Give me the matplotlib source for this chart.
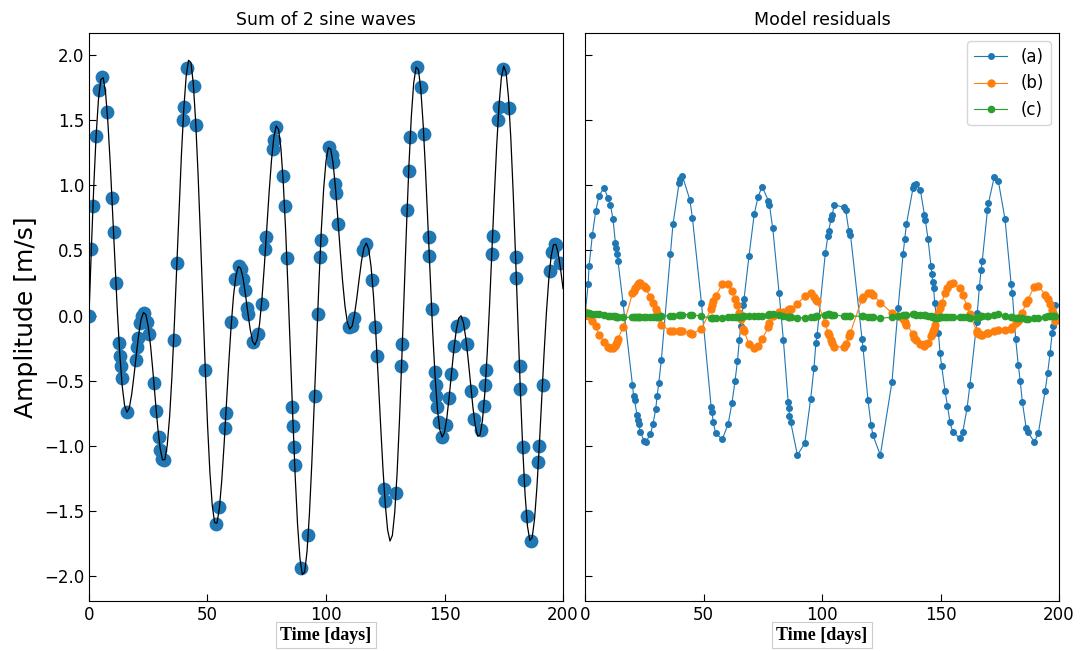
import numpy as np
import matplotlib
matplotlib.use("Agg")
import matplotlib.pyplot as plt

# ---------------- data ----------------
curve_values = [
    0.000, 0.514, 0.986, 1.378, 1.660, 1.811, 1.825, 1.708, 1.475, 1.154,
    0.780, 0.390, 0.020, -0.298, -0.538, -0.688, -0.742, -0.709, -0.606, -0.458,
    -0.294, -0.142, -0.029, 0.024, 0.007, -0.083, -0.236, -0.434, -0.650, -0.855,
    -1.017, -1.107, -1.105, -0.997, -0.780, -0.466, -0.074, 0.365, 0.815, 1.234,
    1.586, 1.836, 1.959, 1.942, 1.782, 1.491, 1.094, 0.623, 0.117, -0.381,
    -0.831, -1.198, -1.455, -1.588, -1.593, -1.480, -1.270, -0.990, -0.674, -0.358,
    -0.072, 0.155, 0.307, 0.375, 0.364, 0.287, 0.165, 0.025, -0.104, -0.195,
    -0.226, -0.182, -0.060, 0.135, 0.385, 0.665, 0.945, 1.191, 1.370, 1.455,
    1.428, 1.278, 1.011, 0.641, 0.194, -0.294, -0.783, -1.232, -1.602, -1.861,
    -1.986, -1.968, -1.809, -1.524, -1.139, -0.690, -0.216, 0.243, 0.648, 0.969,
    1.186, 1.288, 1.276, 1.166, 0.979, 0.745, 0.496, 0.263, 0.074, -0.052,
    -0.103, -0.082, 0.004, 0.134, 0.282, 0.420, 0.519, 0.556, 0.511, 0.378,
    0.160, -0.130, -0.469, -0.825, -1.164, -1.448, -1.645, -1.730, -1.687, -1.510,
    -1.209, -0.804, -0.325, 0.189, 0.696, 1.155, 1.527, 1.784, 1.906, 1.888,
    1.735, 1.466, 1.110, 0.701, 0.280, -0.118, -0.458, -0.715, -0.874, -0.932,
    -0.896, -0.783, -0.618, -0.431, -0.252, -0.108, -0.020, -0.002, -0.056, -0.174,
    -0.339, -0.526, -0.705, -0.848, -0.925, -0.916, -0.807, -0.598, -0.297, 0.076,
    0.490, 0.910, 1.297, 1.613, 1.827, 1.914, 1.863, 1.672, 1.354, 0.934,
    0.446, -0.070, -0.571, -1.017, -1.374, -1.615, -1.725, -1.703, -1.559, -1.315,
    -0.999, -0.647, -0.295, 0.023, 0.279, 0.456, 0.544, 0.546, 0.476, 0.354,
    0.207,
]
curve_days = np.arange(len(curve_values))

obs_days = [
    0.0, 1.0, 1.7, 3.0, 4.4, 5.6, 7.6, 9.7, 10.4, 11.4,
    12.7, 13.05, 13.4, 13.8, 16.0, 19.7, 20.4, 20.8, 21.7, 22.5,
    23.3, 24.6, 25.4, 27.4, 28.4, 29.5, 30.1, 31.0, 31.6, 35.7,
    37.1, 39.75, 40.05, 41.5, 44.1, 45.1, 49.1, 53.5, 55.0, 57.4,
    57.8, 60.1, 61.8, 63.3, 64.0, 65.1, 65.7, 66.75, 67.1, 69.1,
    71.4, 72.8, 74.45, 74.8, 77.5, 77.9, 79.1, 81.8, 82.5, 83.45,
    85.8, 86.15, 86.5, 86.8, 89.6, 92.45, 95.15, 96.5, 97.5, 97.85,
    101.3, 102.4, 102.9, 103.85, 104.15, 105.2, 109.6, 110.9, 111.8, 115.8,
    117.0, 119.5, 120.85, 121.55, 124.6, 124.9, 129.5, 131.85, 132.2, 134.25,
    134.9, 135.6, 138.4, 139.95, 141.2, 143.25, 143.55, 144.6, 145.9, 146.3,
    146.6, 146.95, 147.65, 149.0, 150.5, 151.9, 152.9, 154.2, 155.3, 158.0,
    159.3, 161.3, 162.6, 165.3, 166.55, 167.25, 167.6, 169.95, 170.3, 172.65,
    172.95, 174.6, 177.25, 180.0, 180.3, 181.65, 181.98, 182.99, 183.7, 184.7,
    186.3, 189.6, 189.97, 191.35, 194.35, 195.4, 196.5, 197.2, 198.6,
]
obs_amplitude = [
    0.00, 0.51, 0.84, 1.38, 1.73, 1.83, 1.56, 0.90, 0.64, 0.25,
    -0.21, -0.31, -0.39, -0.48, -0.74, -0.34, -0.24, -0.17, -0.06, 0.00,
    0.02, -0.05, -0.14, -0.52, -0.73, -0.93, -1.03, -1.10, -1.11, -0.19,
    0.40, 1.50, 1.60, 1.90, 1.76, 1.46, -0.42, -1.60, -1.47, -0.86,
    -0.75, -0.05, 0.28, 0.38, 0.36, 0.28, 0.20, 0.06, 0.01, -0.20,
    -0.14, 0.09, 0.51, 0.60, 1.28, 1.35, 1.45, 1.07, 0.84, 0.44,
    -0.70, -0.85, -1.01, -1.15, -1.94, -1.68, -0.62, 0.01, 0.45, 0.58,
    1.29, 1.23, 1.18, 1.01, 0.94, 0.70, -0.09, -0.08, -0.02, 0.50,
    0.55, 0.27, -0.09, -0.31, -1.33, -1.42, -1.36, -0.39, -0.22, 0.81,
    1.11, 1.37, 1.91, 1.75, 1.39, 0.60, 0.46, 0.05, -0.43, -0.53,
    -0.62, -0.70, -0.82, -0.93, -0.84, -0.63, -0.45, -0.23, -0.08, -0.06,
    -0.22, -0.58, -0.79, -0.88, -0.69, -0.53, -0.42, 0.47, 0.61, 1.50,
    1.60, 1.89, 1.59, 0.45, 0.29, -0.39, -0.56, -1.01, -1.26, -1.54,
    -1.73, -1.12, -1.00, -0.53, 0.34, 0.49, 0.55, 0.54, 0.40,
]

res_days = [
    0.0, 1.3, 1.7, 3.1, 4.5, 5.9, 8.0, 9.7, 10.7, 11.8,
    12.8, 13.2, 13.5, 13.9, 16.0, 20.0, 20.5, 20.9, 21.9, 22.4,
    22.6, 23.3, 24.9, 25.6, 27.6, 28.7, 29.8, 30.4, 31.1, 32.2,
    36.0, 37.1, 39.7, 40.2, 41.1, 44.2, 45.3, 49.1, 53.2, 53.6,
    54.1, 55.1, 57.9, 60.4, 62.0, 63.3, 64.3, 65.1, 65.7, 66.8,
    67.1, 69.2, 71.4, 73.0, 74.7, 77.4, 77.8, 79.2, 81.9, 83.7,
    85.7, 86.1, 86.2, 86.8, 89.6, 92.7, 95.2, 96.6, 97.4, 97.9,
    101.4, 102.5, 102.8, 103.8, 104.2, 105.2, 109.4, 110.0, 111.3, 112.0,
    116.9, 117.3, 119.4, 120.7, 121.5, 124.6, 129.5, 132.1, 134.2, 134.9,
    135.6, 138.4, 139.0, 139.8, 141.5, 143.2, 143.6, 144.7, 146.0, 146.4,
    146.7, 147.1, 147.5, 149.1, 149.8, 150.5, 151.9, 152.9, 154.0, 155.1,
    158.0, 159.4, 161.2, 162.4, 165.3, 165.5, 166.4, 167.1, 167.6, 169.8,
    170.2, 172.6, 174.4, 177.2, 179.8, 180.3, 181.7, 182.8, 183.6, 184.5,
    186.1, 186.7, 189.6, 191.3, 194.1, 195.2, 196.2, 197.1, 197.4, 198.4,
]
res_a = [
    0.00, 0.24, 0.38, 0.62, 0.80, 0.92, 0.98, 0.90, 0.85, 0.74,
    0.56, 0.52, 0.47, 0.42, 0.10, -0.53, -0.62, -0.65, -0.76, -0.80,
    -0.83, -0.89, -0.96, -0.97, -0.91, -0.83, -0.72, -0.62, -0.52, -0.34,
    0.47, 0.70, 1.02, 1.05, 1.07, 0.89, 0.75, 0.10, -0.70, -0.74,
    -0.82, -0.90, -0.95, -0.83, -0.67, -0.50, -0.35, -0.19, -0.08, 0.08,
    0.13, 0.46, 0.78, 0.91, 0.99, 0.88, 0.85, 0.67, 0.17, -0.19,
    -0.66, -0.71, -0.77, -0.82, -1.07, -0.98, -0.64, -0.40, -0.21, -0.15,
    0.48, 0.61, 0.65, 0.74, 0.77, 0.85, 0.83, 0.81, 0.65, 0.62,
    -0.18, -0.25, -0.65, -0.84, -0.92, -1.07, -0.51, 0.06, 0.47, 0.59,
    0.70, 0.98, 1.00, 1.01, 0.96, 0.77, 0.73, 0.59, 0.38, 0.32,
    0.26, 0.21, 0.10, -0.13, -0.29, -0.39, -0.58, -0.69, -0.82, -0.89,
    -0.94, -0.89, -0.71, -0.53, -0.05, 0.02, 0.22, 0.35, 0.42, 0.81,
    0.86, 1.06, 1.03, 0.74, 0.24, 0.17, -0.18, -0.38, -0.50, -0.66,
    -0.86, -0.89, -0.97, -0.90, -0.58, -0.44, -0.29, -0.13, -0.08, 0.08,
]
res_b = [
    0.03, 0.01, 0.00, -0.04, -0.08, -0.15, -0.20, -0.24, -0.25, -0.25,
    -0.23, -0.22, -0.20, -0.18, -0.09, 0.17, 0.19, 0.21, 0.23, 0.24,
    0.25, 0.25, 0.23, 0.21, 0.14, 0.10, 0.05, 0.02, -0.01, -0.07,
    -0.12, -0.12, -0.12, -0.12, -0.12, -0.13, -0.14, -0.10, 0.05, 0.08,
    0.11, 0.15, 0.24, 0.24, 0.19, 0.13, 0.08, 0.02, -0.03, -0.10,
    -0.12, -0.22, -0.25, -0.23, -0.18, -0.09, -0.06, 0.00, 0.03, 0.03,
    0.04, 0.04, 0.05, 0.05, 0.09, 0.15, 0.17, 0.14, 0.12, 0.11,
    -0.06, -0.13, -0.15, -0.19, -0.21, -0.24, -0.24, -0.22, -0.16, -0.13,
    0.13, 0.14, 0.17, 0.17, 0.16, 0.10, 0.02, 0.00, -0.03, -0.05,
    -0.07, -0.14, -0.17, -0.19, -0.22, -0.23, -0.22, -0.21, -0.16, -0.14,
    -0.12, -0.10, -0.07, 0.02, 0.06, 0.10, 0.17, 0.21, 0.24, 0.25,
    0.21, 0.16, 0.07, 0.01, -0.12, -0.13, -0.14, -0.15, -0.15, -0.13,
    -0.13, -0.12, -0.11, -0.11, -0.10, -0.09, -0.06, -0.04, -0.01, 0.02,
    0.10, 0.12, 0.22, 0.23, 0.16, 0.13, 0.09, 0.04, 0.02, -0.04,
]
res_c = [
    0.020, 0.020, 0.020, 0.015, 0.013, 0.010, 0.005, 0.000, 0.000, -0.005,
    -0.005, -0.008, -0.008, -0.010, -0.013, -0.013, -0.013, -0.013, -0.013, -0.013,
    -0.013, -0.013, -0.013, -0.013, -0.013, -0.012, -0.010, -0.010, -0.008, -0.005,
    0.000, 0.000, 0.005, 0.006, 0.008, 0.008, 0.008, -0.005, -0.020, -0.020,
    -0.020, -0.020, -0.018, -0.012, -0.010, -0.010, -0.010, -0.010, -0.008, -0.006,
    -0.006, -0.005, -0.003, 0.000, 0.000, 0.008, 0.010, 0.010, 0.005, -0.002,
    -0.010, -0.010, -0.012, -0.013, -0.020, -0.015, -0.010, -0.008, -0.005, -0.002,
    0.008, 0.010, 0.010, 0.008, 0.006, 0.004, -0.004, -0.005, -0.004, -0.003,
    -0.005, -0.006, -0.010, -0.012, -0.014, -0.020, -0.014, -0.004, 0.003, 0.005,
    0.007, 0.010, 0.010, 0.008, 0.005, 0.003, 0.002, 0.000, -0.005, -0.008,
    -0.010, -0.012, -0.015, -0.015, -0.014, -0.013, -0.012, -0.010, -0.010, -0.010,
    -0.010, -0.011, -0.013, -0.015, -0.015, -0.014, -0.010, -0.007, -0.005, 0.000,
    0.000, 0.006, 0.010, 0.000, -0.008, -0.010, -0.015, -0.020, -0.021, -0.022,
    -0.024, -0.025, -0.018, -0.015, -0.008, -0.005, -0.004, -0.004, -0.004, -0.005,
]

series_labels = ["(a)", "(b)", "(c)"]
x_ticks = [0, 50, 100, 150, 200]
y_ticks = [-2.0, -1.5, -1.0, -0.5, 0.0, 0.5, 1.0, 1.5, 2.0]

# ---------------- figure ----------------
fig = plt.figure(figsize=(10.8, 6.51), dpi=100)
ax1 = fig.add_axes([0.0824, 0.0768, 0.4389, 0.8725])
ax2 = fig.add_axes([0.5417, 0.0768, 0.4389, 0.8725], sharey=ax1)

ax1.scatter(obs_days, obs_amplitude, s=80, color="#1f77b4", zorder=2)
ax1.plot(curve_days, curve_values, color="black", lw=0.9, zorder=3)
ax1.set_title("Sum of 2 sine waves", fontsize=12.5)

cols = ["#1f77b4", "#ff7f0e", "#2ca02c"]
sizes = [4, 5, 4.5]
for vals, lab, c, m in zip([res_a, res_b, res_c], series_labels, cols, sizes):
    ax2.plot(res_days, vals, "-o", color=c, lw=0.8, ms=m, label=lab)
ax2.set_title("Model residuals", fontsize=12.5)
leg = ax2.legend(loc="upper right", fontsize=12, handlelength=2.0)

for ax in (ax1, ax2):
    ax.set_xlim(0, 200)
    ax.set_xticks(x_ticks)
    ax.tick_params(direction="in", labelsize=12, length=5)
    ax.set_xlabel("Time [days]", family="Liberation Serif", weight="bold",
                  fontsize=13,
                  bbox=dict(boxstyle="square,pad=0.25", fc="white", ec="#cccccc", lw=0.8))
    ax.xaxis.labelpad = 2
ax1.set_ylim(-2.19, 2.168)
ax1.set_yticks(y_ticks)
ax2.tick_params(labelleft=False)
ax1.set_ylabel("Amplitude [m/s]", fontsize=18)

fig.savefig("out.png", dpi=100)
